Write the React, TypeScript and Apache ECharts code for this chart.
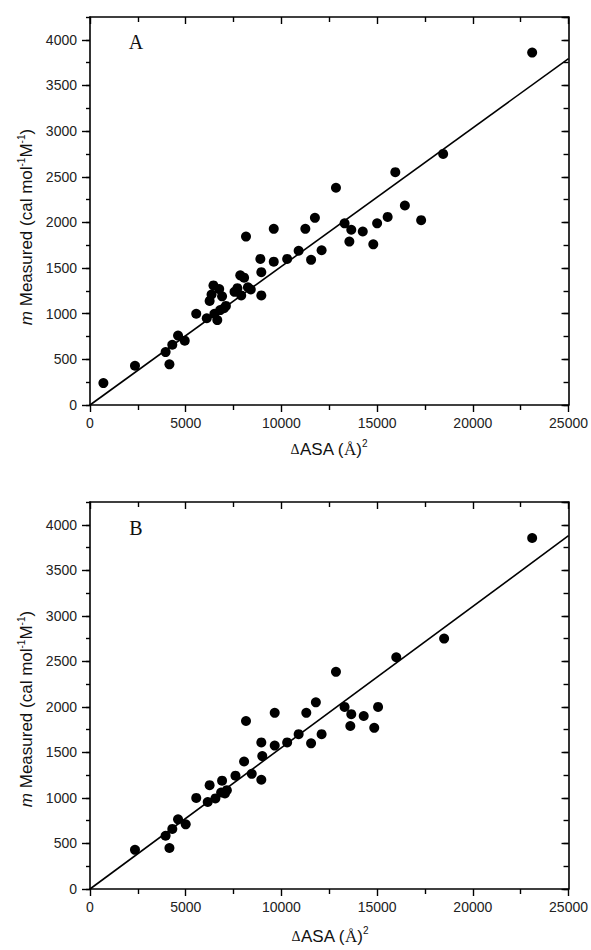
import React, { useEffect, useRef } from "react";
import * as echarts from "echarts";

// Panel A: [ΔASA, m measured]
const pointsA: number[][] = [
  [700, 240], [2350, 430], [3950, 580], [4150, 445], [4300, 660], [4600, 760], [4950, 705],
  [5550, 1000], [6100, 950], [6250, 1140], [6350, 1210], [6450, 1310], [6500, 1000], [6650, 930],
  [6750, 1270], [6900, 1190], [6800, 1040], [7000, 1060], [7100, 1085], [7550, 1240], [7700, 1280],
  [7850, 1420], [7900, 1200], [8050, 1395], [8150, 1845], [8250, 1290], [8400, 1265], [8900, 1600],
  [8950, 1455], [8950, 1200], [9600, 1930], [9600, 1570], [10300, 1600], [10900, 1690], [11250, 1930],
  [11550, 1590], [11750, 2050], [12100, 1695], [12850, 2380], [13300, 1990], [13650, 1920],
  [13550, 1790], [14250, 1900], [14800, 1760], [15000, 1990], [15550, 2060], [15950, 2550],
  [16450, 2185], [17300, 2025], [18450, 2750], [23100, 3860],
];
// Panel B
const pointsB: number[][] = [
  [2350, 430], [3950, 585], [4150, 450], [4300, 660], [4600, 765], [5000, 710], [5550, 1000],
  [6150, 955], [6250, 1140], [6550, 995], [6900, 1190], [6850, 1060], [7050, 1050], [7150, 1085],
  [7600, 1245], [8050, 1400], [8150, 1845], [8450, 1265], [8950, 1610], [9000, 1460], [8950, 1200],
  [9650, 1935], [9650, 1575], [10300, 1610], [10900, 1700], [11300, 1935], [11550, 1600],
  [11800, 2050], [12100, 1700], [12850, 2385], [13300, 2000], [13650, 1920], [13600, 1790],
  [14300, 1900], [14850, 1770], [15050, 2000], [16000, 2545], [18500, 2750], [23100, 3855],
];
// Fitted lines
const fitA: number[][] = [[0, 0], [25000, 3795]];
const fitB: number[][] = [[0, 0], [25000, 3880]];

const panelLabels = ["A", "B"];
const xRange = [0, 25000];
const xStep = 5000;
const yRange = [0, 4250];
const yStep = 500;
const yMinorStep = 250;

const SANS = "Liberation Sans";
const SERIF = "Liberation Serif";
const INK = "#111";

const grids = [
  { left: 90, top: 17, width: 480, height: 388 },
  { left: 90, top: 502, width: 481, height: 387 },
];

export default function App() {
  const ref = useRef<HTMLDivElement>(null);
  useEffect(() => {
    if (!ref.current) return;
    const chart = echarts.init(ref.current, undefined, { renderer: "svg" });
    const lineOn = { show: true, onZero: false, lineStyle: { color: "#000", width: 1.6 } };
    const lineOff = { show: false, onZero: false };
    const tickStyle = { color: "#000", width: 1.4 };
    const xAxis: any[] = [];
    const yAxis: any[] = [];
    grids.forEach((_, i) => {
      const xBase = {
        type: "value", gridIndex: i, min: xRange[0], max: xRange[1], interval: xStep,
        splitLine: { show: false }, axisLine: lineOn,
        minorTick: { show: true, splitNumber: 2, length: 5, lineStyle: tickStyle },
      };
      xAxis.push({
        ...xBase, position: "bottom",
        axisTick: { show: true, inside: false, length: 7, lineStyle: tickStyle },
        axisLabel: {
          show: true, fontSize: 14, fontFamily: SANS, color: "#222", margin: 11,
          formatter: (v: number) => String(v),
        },
      });
      xAxis.push({
        ...xBase, position: "top",
        axisTick: { show: true, inside: true, length: 7, lineStyle: tickStyle },
        axisLabel: { show: false },
      });
      const yBase = {
        type: "value", gridIndex: i, min: yRange[0], max: yRange[1], splitLine: { show: false },
      };
      yAxis.push({
        ...yBase, position: "left", interval: yStep, axisLine: lineOn,
        axisTick: { show: true, inside: false, length: 8, lineStyle: tickStyle },
        axisLabel: {
          show: true, fontSize: 14, fontFamily: SANS, color: "#222", margin: 13, showMaxLabel: false,
          formatter: (v: number) => (v % yStep === 0 ? String(v) : ""),
        },
      });
      yAxis.push({
        ...yBase, position: "left", interval: yMinorStep, axisLine: lineOff,
        axisTick: { show: true, inside: false, length: 4, lineStyle: tickStyle },
        axisLabel: { show: false },
      });
      yAxis.push({
        ...yBase, position: "right", interval: yStep, axisLine: lineOn,
        axisTick: { show: true, inside: true, length: 7, lineStyle: tickStyle },
        axisLabel: { show: false },
      });
      yAxis.push({
        ...yBase, position: "right", interval: yMinorStep, axisLine: lineOff,
        axisTick: { show: true, inside: true, length: 5, lineStyle: tickStyle },
        axisLabel: { show: false },
      });
    });

    const pts = [pointsA, pointsB];
    const fits = [fitA, fitB];
    const series: any[] = [];
    grids.forEach((_, i) => {
      series.push({
        type: "line", xAxisIndex: 2 * i, yAxisIndex: 4 * i, data: fits[i], symbol: "none",
        lineStyle: { color: "#000", width: 1.6 }, z: 2,
      });
      series.push({
        type: "scatter", xAxisIndex: 2 * i, yAxisIndex: 4 * i, data: pts[i], symbol: "circle",
        symbolSize: 10, itemStyle: { color: "#000", opacity: 1 }, z: 3,
      });
    });

    const yTitleRich = {
      it: { fontFamily: SANS, fontSize: 17, fontStyle: "italic", fill: INK },
      n: { fontFamily: SANS, fontSize: 17, fill: INK },
      sup: { fontFamily: SANS, fontSize: 10, fill: INK, padding: [0, 0, 10, 0] },
    };
    const xTitleRich = {
      d: { fontFamily: SERIF, fontSize: 14, fill: INK },
      n: { fontFamily: SANS, fontSize: 17, fill: INK },
      s: { fontFamily: SERIF, fontSize: 17, fill: INK },
      sup: { fontFamily: SANS, fontSize: 10, fill: INK, padding: [0, 0, 12, 0] },
    };
    const yTitle = "{it|m}{n| Measured (cal mol}{sup|-1}{n|M}{sup|-1}{n|)}";
    const xTitle = "{d|Δ}{n|ASA (}{s|Å}{n|)}{sup|2}";
    const titlePos = [
      { yt: [26, 227], xt: [329, 449], lab: [136, 42] },
      { yt: [26, 709], xt: [330, 936], lab: [136, 528] },
    ];
    const graphic: any[] = [];
    titlePos.forEach((p, i) => {
      graphic.push({
        type: "text", x: p.yt[0], y: p.yt[1], rotation: Math.PI / 2,
        style: { text: yTitle, rich: yTitleRich, align: "center", verticalAlign: "middle" },
      });
      graphic.push({
        type: "text", x: p.xt[0], y: p.xt[1],
        style: { text: xTitle, rich: xTitleRich, align: "center", verticalAlign: "middle" },
      });
      graphic.push({
        type: "text", x: p.lab[0], y: p.lab[1],
        style: {
          text: panelLabels[i], fontFamily: SERIF, fontSize: 20, fill: INK,
          align: "center", verticalAlign: "middle",
        },
      });
    });

    chart.setOption({
      animation: false,
      backgroundColor: "#fff",
      grid: grids.map((g) => ({ ...g, containLabel: false })),
      xAxis,
      yAxis,
      series,
      graphic,
    });
    return () => chart.dispose();
  }, []);
  return (
    <div
      ref={ref}
      style={{ position: "fixed", left: 0, top: 0, width: 591, height: 950, background: "#fff" }}
    />
  );
}
